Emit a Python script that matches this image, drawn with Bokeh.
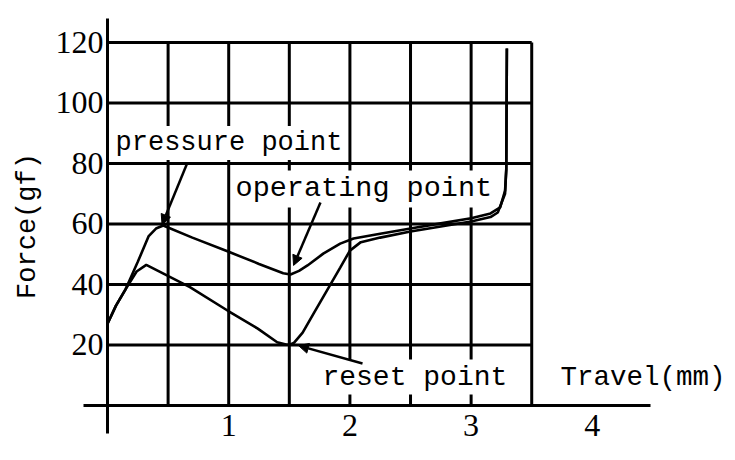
from bokeh.plotting import figure
from bokeh.models import Range1d, FixedTicker, Label, Arrow, NormalHead
from bokeh.embed import file_html
from bokeh.resources import INLINE

# ---- data (travel in mm, force in gf) ----
press_x = [0.00, 0.07, 0.15, 0.25, 0.34, 0.40, 0.46, 0.70, 1.00, 1.25, 1.45, 1.51, 1.58,
           1.65, 1.78, 1.92, 2.03, 2.25, 2.50, 2.75, 3.00, 3.16, 3.24, 3.28, 3.29, 3.295]
press_y = [27.0, 33.0, 38.5, 47.5, 56.0, 58.5, 59.5, 55.5, 50.8, 46.8, 43.7, 43.3, 44.5,
           46.3, 50.2, 53.5, 55.2, 56.8, 58.5, 60.2, 61.9, 63.5, 65.5, 71.0, 78.0, 118.0]

release_x = [3.295, 3.29, 3.28, 3.22, 3.16, 3.00, 2.75, 2.50, 2.25, 2.09, 2.00, 1.92, 1.81,
             1.70, 1.61, 1.54, 1.51, 1.48, 1.40, 1.24, 0.99, 0.68, 0.49, 0.32, 0.24, 0.15,
             0.07, 0.00]
release_y = [118.0, 78.0, 70.0, 63.8, 62.3, 60.8, 59.2, 57.5, 55.5, 54.0, 51.2, 45.6, 38.0,
             30.4, 24.1, 20.8, 20.2, 20.1, 20.9, 25.4, 31.4, 39.1, 43.0, 46.5, 44.3, 38.5,
             33.0, 27.0]

x_ticks = [1, 2, 3, 4]
y_ticks = [20, 40, 60, 80, 100, 120]
grid_x = [0.5, 1.0, 1.5, 2.0, 2.5, 3.0, 3.5]
grid_y = [20, 40, 60, 80, 100, 120]
grid_x_max = 3.5
grid_y_max = 120
x_axis_bounds = (-0.198, 4.48)
y_axis_bounds = (-9.26, 127.9)

p = figure(width=730, height=450, frame_width=730, frame_height=450,
           x_range=Range1d(-0.8828, 5.140), y_range=Range1d(-14.876, 133.88),
           output_backend="svg", toolbar_location=None,
           min_border_left=0, min_border_right=0, min_border_top=0, min_border_bottom=0)
p.outline_line_color = None
p.xgrid.visible = False
p.ygrid.visible = False
p.background_fill_color = "white"

# grid (limited to the 0..3.5 mm / 0..120 gf box)
p.segment(x0=grid_x, y0=[0] * len(grid_x), x1=grid_x, y1=[grid_y_max] * len(grid_x),
          line_color="black", line_width=3)
p.segment(x0=[0] * len(grid_y), y0=grid_y, x1=[grid_x_max] * len(grid_y), y1=grid_y,
          line_color="black", line_width=3)

# curves
p.line(press_x, press_y, line_color="black", line_width=2.6)
p.line(release_x, release_y, line_color="black", line_width=2.6)

# axes crossing at origin
for ax in (p.xaxis, p.yaxis):
    ax.fixed_location = 0
    ax.axis_line_width = 3
    ax.axis_line_color = "black"
    ax.major_tick_line_color = None
    ax.minor_tick_line_color = None
    ax.major_tick_out = 0
    ax.major_tick_in = 0
    ax.minor_tick_out = 0
    ax.minor_tick_in = 0
    ax.major_label_text_font = "Liberation Serif"
    ax.major_label_text_font_size = "32px"
    ax.major_label_text_color = "black"

p.xaxis.bounds = x_axis_bounds
p.yaxis.bounds = y_axis_bounds
p.xaxis.ticker = FixedTicker(ticks=x_ticks)
p.yaxis.ticker = FixedTicker(ticks=y_ticks)
p.xaxis.major_label_standoff = 10
p.yaxis.major_label_standoff = 4

p.yaxis.axis_label = "Force(gf)"
p.yaxis.axis_label_text_font = "Liberation Mono"
p.yaxis.axis_label_text_font_size = "27px"
p.yaxis.axis_label_text_font_style = "normal"
p.yaxis.axis_label_text_color = "black"
p.yaxis.axis_label_standoff = 10

# annotations
def add_label(txt, x, y, size):
    p.add_layout(Label(x=x, y=y, text=txt, text_font="Liberation Mono",
                       text_font_size=size, text_color="black",
                       text_baseline="alphabetic", text_align="left",
                       background_fill_color="white", background_fill_alpha=1.0,
                       padding=2))

add_label("pressure point", 0.05, 86.8, "27px")
add_label("operating point", 1.04, 71.6, "28.5px")
add_label("reset point", 1.757, 9.4, "28px")
add_label("Travel(mm)", 3.72, 9.4, "27.5px")

def add_arrow(xs, ys, xe, ye):
    p.add_layout(Arrow(end=NormalHead(size=10, fill_color="black", line_color="black",
                                      line_width=1),
                       x_start=xs, y_start=ys, x_end=xe, y_end=ye,
                       line_color="black", line_width=2.5))

add_arrow(0.66, 80.3, 0.45, 59.8)
add_arrow(1.757, 67.1, 1.535, 46.3)
add_arrow(2.104, 13.9, 1.576, 19.8)

open("out.html", "w").write(file_html(p, INLINE))
